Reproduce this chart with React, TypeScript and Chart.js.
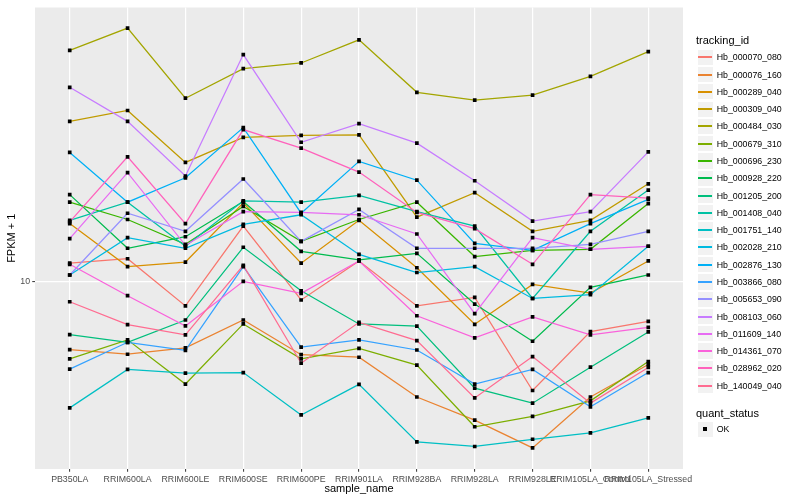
import React, { useEffect, useRef } from "react";
import { Chart, registerables } from "chart.js";

Chart.register(...registerables);

const FONT = '"Liberation Sans", Arial, Helvetica, sans-serif';

const sampleNames = [
  "PB350LA",
  "RRIM600LA",
  "RRIM600LE",
  "RRIM600SE",
  "RRIM600PE",
  "RRIM901LA",
  "RRIM928BA",
  "RRIM928LA",
  "RRIM928LE",
  "RRIM105LA_Control",
  "RRIM105LA_Stressed",
];

const trackingIds = [
  "Hb_000070_080",
  "Hb_000076_160",
  "Hb_000289_040",
  "Hb_000309_040",
  "Hb_000484_030",
  "Hb_000679_310",
  "Hb_000696_230",
  "Hb_000928_220",
  "Hb_001205_200",
  "Hb_001408_040",
  "Hb_001751_140",
  "Hb_002028_210",
  "Hb_002876_130",
  "Hb_003866_080",
  "Hb_005653_090",
  "Hb_008103_060",
  "Hb_011609_140",
  "Hb_014361_070",
  "Hb_028962_020",
  "Hb_140049_040",
];

const seriesColors = [
  "#F8766D", "#EA8331", "#D89000", "#C09B00", "#A3A500",
  "#7CAE00", "#39B600", "#00BB4E", "#00BF7D", "#00C1A3",
  "#00BFC4", "#00BAE0", "#00B0F6", "#35A2FF", "#9590FF",
  "#C77CFF", "#E76BF3", "#FA62DB", "#FF62BC", "#FF6C91",
];

// FPKM + 1, one value per sample_name
const hb000070080 = [11.5, 11.9, 8.27, 15.3, 8.66, 11.7, 8.27, 8.83, 4.31, 6.79, 7.34];
const hb000076160 = [5.91, 5.7, 5.99, 7.42, 5.68, 5.57, 4.1, 3.43, 2.77, 4.1, 5.27];
const hb000289040 = [15.6, 11.2, 11.6, 18.3, 11.5, 16.0, 11.1, 7.18, 9.76, 9.13, 11.7];
const hb000309040 = [34.3, 37.3, 25.0, 30.3, 30.8, 30.9, 16.4, 19.8, 14.7, 16.0, 21.2];
const hb000484030 = [59.3, 70.4, 41.0, 51.5, 53.8, 64.3, 42.9, 40.4, 42.0, 48.5, 58.7];
const hb000679310 = [5.5, 6.37, 4.53, 7.2, 5.5, 5.96, 5.24, 3.26, 3.53, 3.98, 5.39];
const hb000696230 = [18.4, 16.1, 13.3, 17.8, 13.6, 16.1, 18.4, 12.1, 12.7, 12.8, 18.2];
const hb000928220 = [19.5, 12.9, 14.1, 18.5, 12.6, 11.8, 12.4, 8.39, 6.3, 9.54, 10.5];
const hb001205200 = [6.63, 6.25, 7.42, 13.0, 9.3, 7.2, 7.08, 4.39, 3.91, 5.16, 6.77];
const hb001408040 = [16.0, 18.4, 13.1, 18.6, 18.4, 19.4, 17.1, 15.3, 8.76, 14.7, 20.2];
const hb001751140 = [3.77, 5.07, 4.93, 4.95, 3.57, 4.52, 2.9, 2.8, 2.96, 3.11, 3.49];
const hb002028210 = [10.5, 14.0, 12.9, 15.5, 16.7, 12.3, 10.7, 11.2, 8.76, 9.02, 13.1];
const hb002876130 = [27.0, 18.4, 22.2, 32.7, 16.9, 25.2, 21.8, 13.4, 12.7, 15.6, 18.8];
const hb003866080 = [5.08, 6.25, 5.87, 11.2, 6.02, 6.37, 5.89, 4.53, 5.07, 3.8, 4.95];
const hb005653090 = [10.5, 16.9, 14.7, 22.0, 13.6, 17.4, 12.9, 12.9, 12.9, 13.3, 14.7];
const hb008103060 = [44.6, 34.3, 22.5, 57.4, 29.2, 33.7, 29.0, 21.7, 15.9, 17.1, 27.1];
const hb011609140 = [13.9, 23.1, 13.2, 17.1, 17.0, 16.7, 14.4, 7.79, 14.0, 12.8, 13.1];
const hb014361070 = [11.4, 8.95, 7.09, 10.0, 9.11, 11.7, 7.67, 6.47, 7.6, 6.62, 7.01];
const hb028962020 = [15.8, 26.1, 15.6, 32.2, 27.9, 23.2, 17.0, 15.0, 11.4, 19.5, 19.0];
const hb140049040 = [8.54, 7.16, 6.62, 11.3, 5.32, 7.29, 6.33, 4.07, 5.6, 3.91, 5.15];

const seriesValues = [
  hb000070080, hb000076160, hb000289040, hb000309040, hb000484030,
  hb000679310, hb000696230, hb000928220, hb001205200, hb001408040,
  hb001751140, hb002028210, hb002876130, hb003866080, hb005653090,
  hb008103060, hb011609140, hb014361070, hb028962020, hb140049040,
];

const yTickValues = [10];
const yAxisMin = 2.354;
const yAxisMax = 82.5;
const xAxisTitle = "sample_name";
const yAxisTitle = "FPKM + 1";
const colorLegendTitle = "tracking_id";
const shapeLegendTitle = "quant_status";
const shapeLegendLabels = ["OK"];

const panelBackground = {
  id: "panelBackground",
  beforeDraw(chart: any) {
    const { ctx, chartArea } = chart;
    if (!chartArea) return;
    ctx.save();
    ctx.fillStyle = "#EBEBEB";
    ctx.fillRect(
      chartArea.left,
      chartArea.top,
      chartArea.right - chartArea.left,
      chartArea.bottom - chartArea.top
    );
    ctx.restore();
  },
};

const KEY = 17.28;
const LEGEND_KEY_LEFT = 696.5;
const LEGEND_TEXT_LEFT = 716.7;
const FIRST_KEY_CENTER = 57.3;

export default function App() {
  const canvasRef = useRef<HTMLCanvasElement | null>(null);

  useEffect(() => {
    const canvas = canvasRef.current;
    if (!canvas) return;

    const lineSets = seriesValues.map((vals, i) => ({
      type: "line" as const,
      label: trackingIds[i],
      data: vals.map((v, j) => ({ x: j, y: v })),
      borderColor: seriesColors[i],
      backgroundColor: seriesColors[i],
      borderWidth: 1.25,
      pointRadius: 0,
      pointHoverRadius: 0,
      fill: false,
      tension: 0,
      order: 100 - i,
    }));

    const pointSets = seriesValues.map((vals, i) => ({
      type: "scatter" as const,
      label: trackingIds[i] + " " + shapeLegendLabels[0],
      data: vals.map((v, j) => ({ x: j, y: v })),
      showLine: false,
      pointStyle: "rect" as const,
      pointRadius: 2.6,
      pointHoverRadius: 2.6,
      pointBackgroundColor: "#000000",
      pointBorderWidth: 0,
      borderWidth: 0,
      order: 0,
    }));

    const chart = new Chart(canvas, {
      type: "line",
      data: { datasets: [...lineSets, ...pointSets] as any },
      options: {
        animation: false,
        responsive: false,
        layout: { padding: { left: 0, right: 117, top: 5.5, bottom: 0 } },
        plugins: {
          legend: { display: false },
          tooltip: { enabled: false },
        },
        scales: {
          x: {
            type: "linear",
            min: -0.6,
            max: 10.6,
            bounds: "data",
            afterBuildTicks: (s: any) => {
              s.ticks = sampleNames.map((_, i) => ({ value: i }));
            },
            afterFit: (s: any) => {
              s.height = 31;
            },
            grid: {
              color: "#FFFFFF",
              lineWidth: 1.2,
              drawTicks: true,
              tickLength: 2.75,
              tickColor: "#333333",
              tickWidth: 1,
            },
            border: { display: false },
            ticks: {
              autoSkip: false,
              maxRotation: 0,
              minRotation: 0,
              padding: 2.2,
              color: "#4D4D4D",
              font: { family: FONT, size: 8.8 },
              callback: (_v: any, i: number) => sampleNames[i],
            },
            title: {
              display: true,
              text: xAxisTitle,
              color: "#000000",
              font: { family: FONT, size: 11 },
              padding: { top: 0, bottom: 4.8 },
            },
          },
          y: {
            type: "logarithmic",
            min: yAxisMin,
            max: yAxisMax,
            bounds: "data",
            afterBuildTicks: (s: any) => {
              s.ticks = yTickValues.map((v) => ({ value: v }));
            },
            afterFit: (s: any) => {
              s.width = 35;
            },
            grid: {
              color: "#FFFFFF",
              lineWidth: 1.2,
              drawTicks: true,
              tickLength: 2.75,
              tickColor: "#333333",
              tickWidth: 1,
            },
            border: { display: false },
            ticks: {
              padding: 2.2,
              color: "#4D4D4D",
              font: { family: FONT, size: 8.8 },
              callback: (v: any) => String(v),
            },
            title: {
              display: true,
              text: yAxisTitle,
              color: "#000000",
              font: { family: FONT, size: 11 },
              padding: { top: 5.4, bottom: 0 },
            },
          },
        },
      } as any,
      plugins: [panelBackground],
    });

    return () => {
      chart.destroy();
    };
  }, []);

  const textStyle = (size: number, top: number, h: number): React.CSSProperties => ({
    position: "absolute",
    top,
    height: h,
    lineHeight: h + "px",
    fontSize: size,
    fontFamily: FONT,
    color: "#000000",
    whiteSpace: "nowrap",
  });

  const quantKeyCenter = 429.3;

  return (
    <div
      style={{
        position: "absolute",
        left: 0,
        top: 0,
        width: 800,
        height: 500,
        background: "#FFFFFF",
        overflow: "hidden",
      }}
    >
      <canvas
        ref={canvasRef}
        width={800}
        height={500}
        style={{ position: "absolute", left: 0, top: 0, width: 800, height: 500, display: "block" }}
      />
      <div style={{ ...textStyle(11, 40 - 8, 16), left: 696 }}>{colorLegendTitle}</div>
      {trackingIds.map((id, i) => {
        const cy = FIRST_KEY_CENTER + i * KEY;
        return (
          <React.Fragment key={id}>
            <div
              style={{
                position: "absolute",
                left: LEGEND_KEY_LEFT,
                top: cy - KEY / 2,
                width: KEY,
                height: KEY,
                boxSizing: "border-box",
                background: "#F2F2F2",
                border: "0.8px solid #FFFFFF",
              }}
            />
            <div
              style={{
                position: "absolute",
                left: Math.round(LEGEND_KEY_LEFT + KEY * 0.1),
                top: Math.round(cy) - 1,
                width: 14,
                height: 2,
                background: seriesColors[i],
              }}
            />
            <div style={{ ...textStyle(8.8, cy - 6, 12), left: LEGEND_TEXT_LEFT }}>{id}</div>
          </React.Fragment>
        );
      })}
      <div style={{ ...textStyle(11, 412.7 - 8, 16), left: 696 }}>{shapeLegendTitle}</div>
      {shapeLegendLabels.map((lab, i) => {
        const cy = quantKeyCenter + i * KEY;
        return (
          <React.Fragment key={lab}>
            <div
              style={{
                position: "absolute",
                left: LEGEND_KEY_LEFT,
                top: cy - KEY / 2,
                width: KEY,
                height: KEY,
                boxSizing: "border-box",
                background: "#F2F2F2",
                border: "0.8px solid #FFFFFF",
              }}
            />
            <div
              style={{
                position: "absolute",
                left: Math.round(LEGEND_KEY_LEFT + KEY / 2) - 2,
                top: Math.round(cy) - 2,
                width: 4,
                height: 4,
                background: "#000000",
              }}
            />
            <div style={{ ...textStyle(8.8, cy - 6, 12), left: LEGEND_TEXT_LEFT }}>{lab}</div>
          </React.Fragment>
        );
      })}
    </div>
  );
}
